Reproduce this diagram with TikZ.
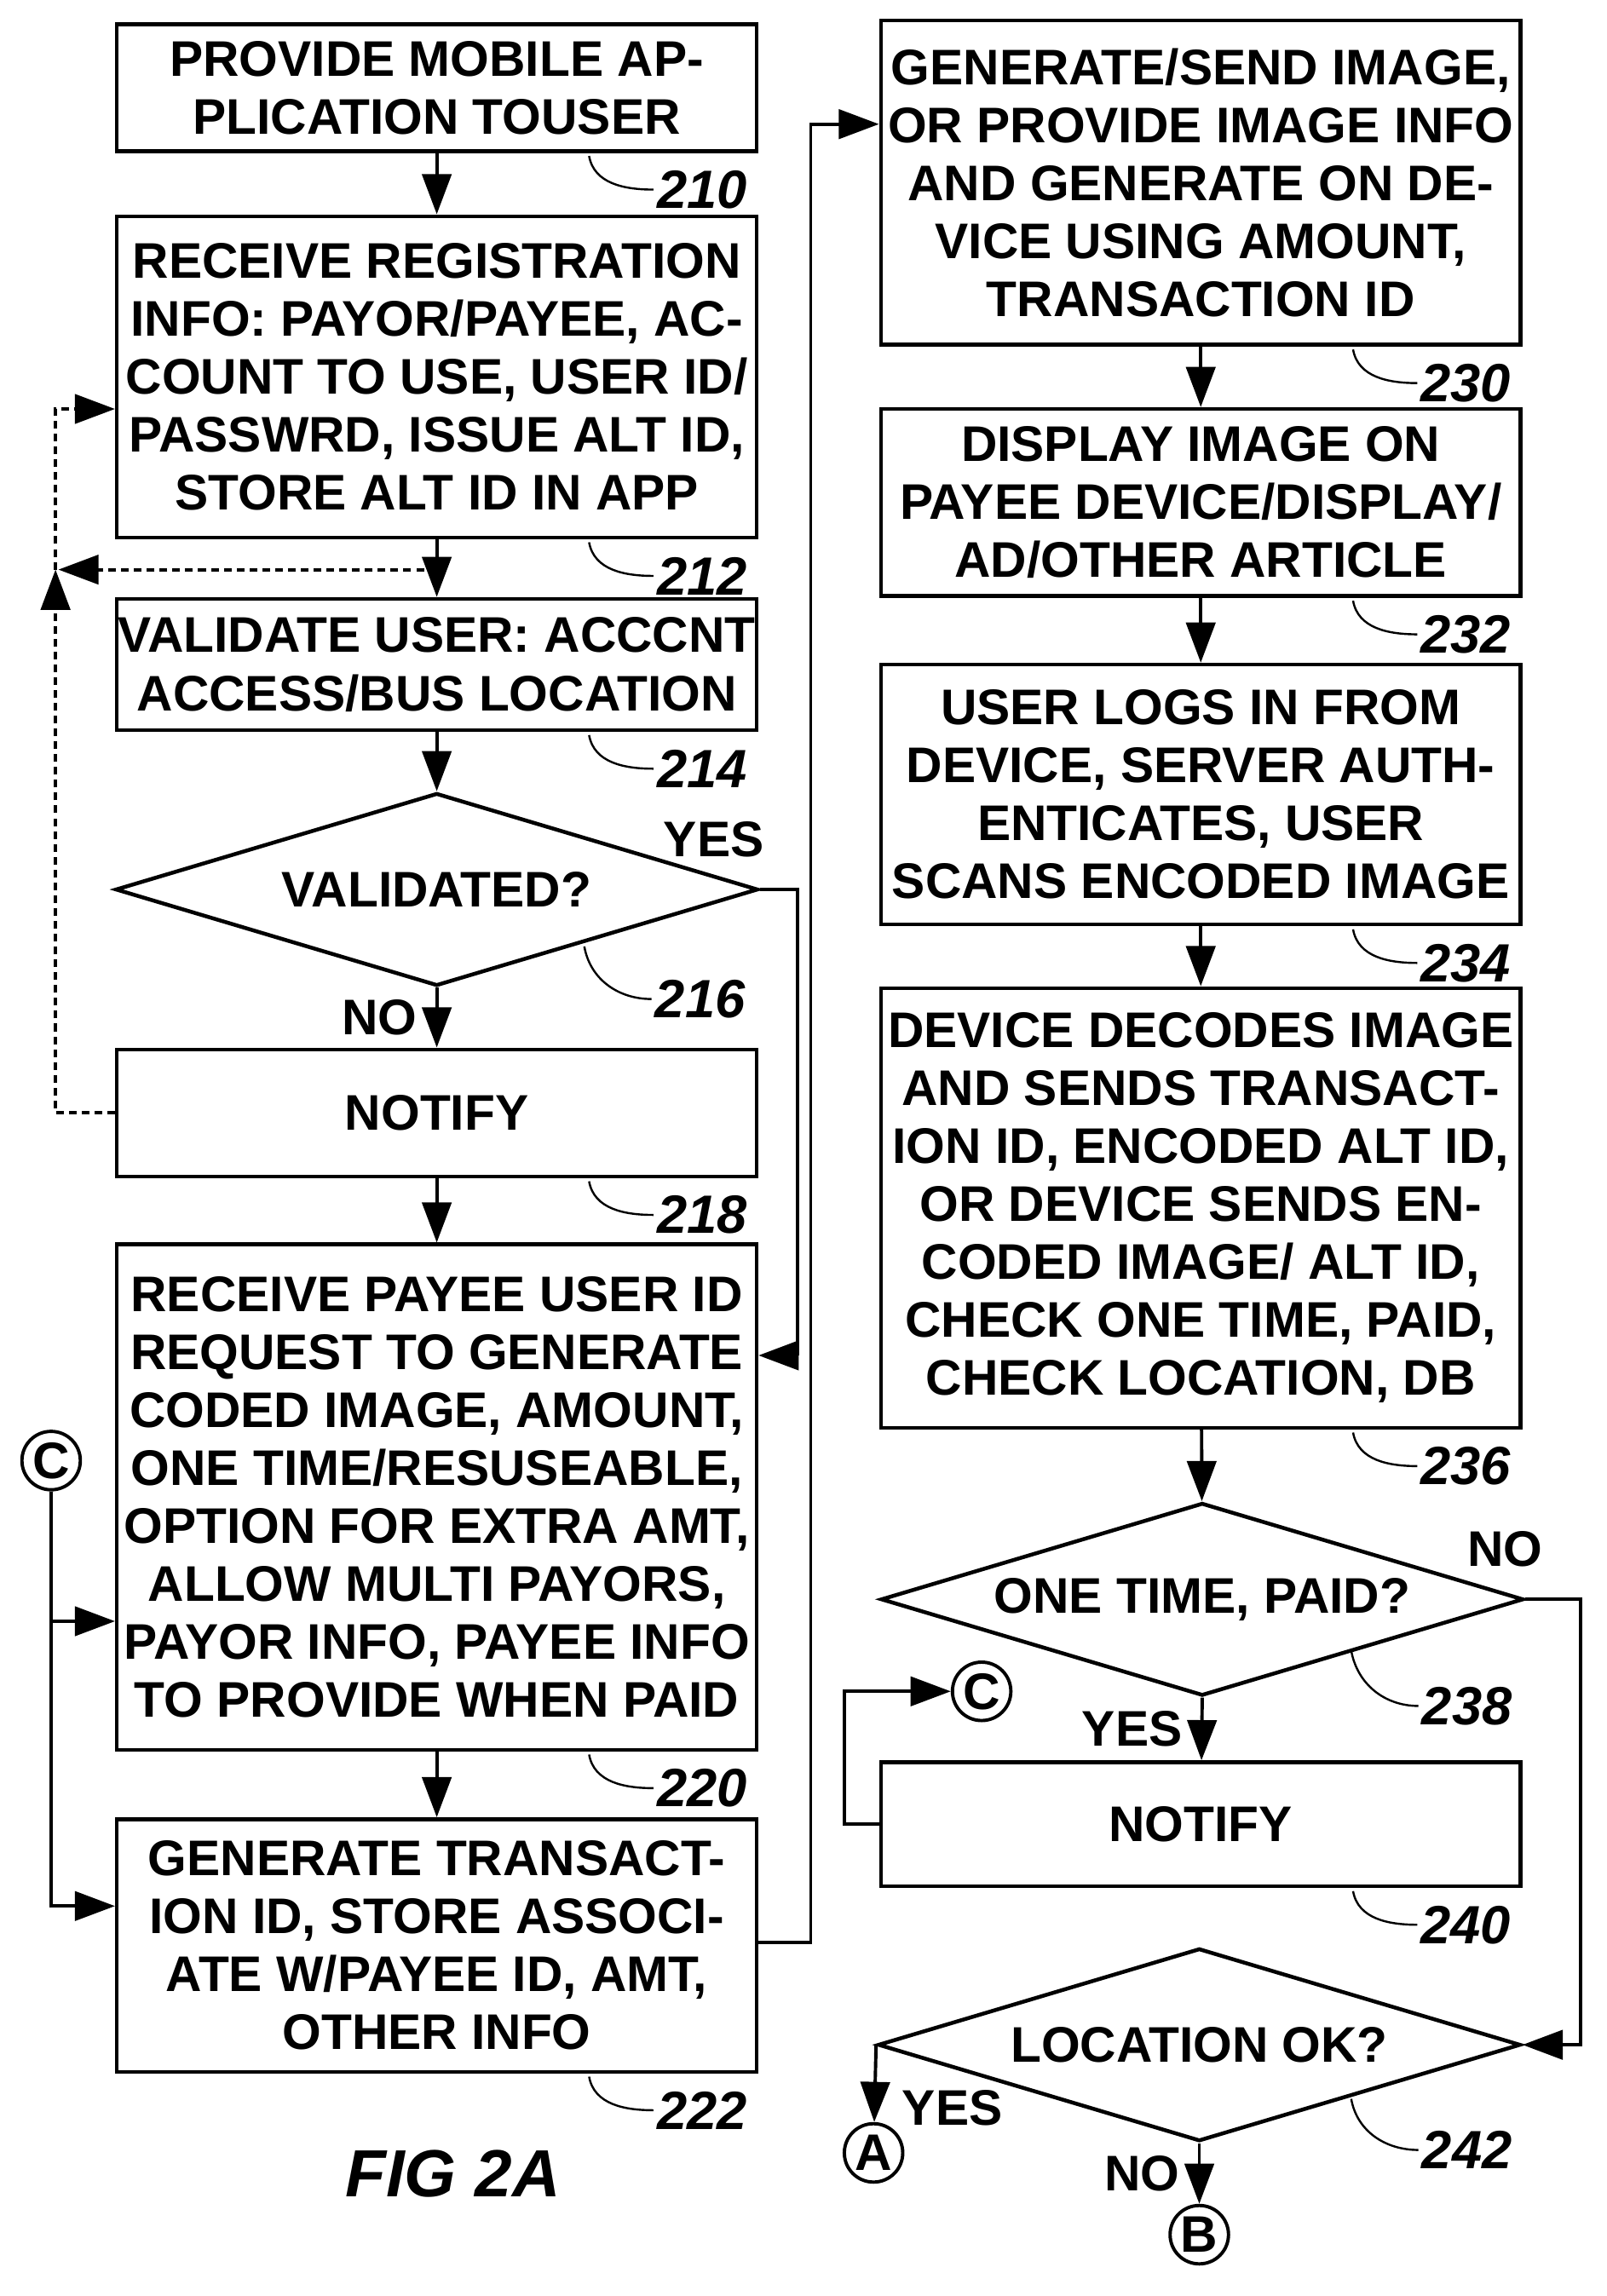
\documentclass[tikz,border=0pt]{standalone}
\usepackage{fontspec}
\setmainfont{Liberation Sans}
\usetikzlibrary{shapes.geometric, arrows.meta}
\usetikzlibrary{positioning}
\usetikzlibrary{calc}

\tikzset{
  stepbox/.style={draw, line width=1.5pt, align=center, inner sep=0pt,
               minimum width=8.76cm, font=\fontsize{19.5}{22.6}\selectfont\bfseries},
  decision/.style={draw, diamond, line width=1.5pt, aspect=3.3, inner sep=0pt,
               minimum width=8.8cm, minimum height=2.64cm, font=\fontsize{19.5}{22.6}\selectfont\bfseries},
  conn/.style={draw, circle, line width=1.3pt, inner sep=0pt, minimum size=0.8cm,
               font=\fontsize{20}{20}\selectfont\bfseries},
  flow/.style={line width=1.3pt, -{Triangle[length=0.55cm,width=0.4cm]}},
  loop/.style={flow, densely dashed},
  lead/.style={line width=0.8pt},
  refnum/.style={font=\fontsize{21}{22}\selectfont\bfseries\itshape, anchor=west, inner sep=1pt},
  tag/.style={font=\fontsize{19.5}{20}\selectfont\bfseries, inner sep=1pt}
}
\newcommand{\refmark}[2]{\draw[lead] ($(#1)+(-116,2)$) to[out=-80,in=180] ($(#1)+(-72,25)$) node[refnum] {#2};}

\begin{document}
\begin{tikzpicture}[x=0.02cm, y=-0.02cm]
\useasboundingbox (0,0) rectangle (1100,1572);
% left column
\node[stepbox, minimum height=1.74cm] (provide) at (299,60) {PROVIDE MOBILE AP-\\PLICATION TOUSER};
\node[stepbox, minimum height=4.4cm] (register) at (299,258) {RECEIVE REGISTRATION\\INFO: PAYOR/PAYEE, AC-\\COUNT TO USE, USER ID/\\PASSWRD, ISSUE ALT ID,\\STORE ALT ID IN APP};
\node[stepbox, minimum height=1.8cm] (validate) at (299,455) {VALIDATE USER: ACCCNT\\ACCESS/BUS LOCATION};
\node[decision] (valq) at (299,609) {VALIDATED?};
\node[stepbox, minimum height=1.74cm] (notifyL) at (299,762) {NOTIFY};
\node[stepbox, minimum height=6.92cm] (request) at (299,1025) {RECEIVE PAYEE USER ID\\REQUEST TO GENERATE\\CODED IMAGE, AMOUNT,\\ONE TIME/RESUSEABLE,\\OPTION FOR EXTRA AMT,\\ALLOW MULTI PAYORS,\\PAYOR INFO, PAYEE INFO\\TO PROVIDE WHEN PAID};
\node[stepbox, minimum height=3.46cm] (transid) at (299,1332) {GENERATE TRANSACT-\\ION ID, STORE ASSOCI-\\ATE W/PAYEE ID, AMT,\\OTHER INFO};
\node[conn] (cL) at (35,1000) {C};
\node[font=\fontsize{26}{28}\selectfont\bfseries\itshape] (fig) at (310,1488) {FIG 2A};
% right column
\node[stepbox, minimum height=4.44cm] (image) at (822,125) {GENERATE/SEND IMAGE,\\OR PROVIDE IMAGE INFO\\AND GENERATE ON DE-\\VICE USING AMOUNT,\\TRANSACTION ID};
\node[stepbox, minimum height=2.56cm] (display) at (822,344) {DISPLAY IMAGE ON\\PAYEE DEVICE/DISPLAY/\\AD/OTHER ARTICLE};
\node[stepbox, minimum height=3.56cm] (login) at (822,544) {USER LOGS IN FROM\\DEVICE, SERVER AUTH-\\ENTICATES, USER\\SCANS ENCODED IMAGE};
\node[stepbox, minimum height=6.02cm] (decode) at (822,827) {DEVICE DECODES IMAGE\\AND SENDS TRANSACT-\\ION ID, ENCODED ALT ID,\\OR DEVICE SENDS EN-\\CODED IMAGE/ ALT ID,\\CHECK ONE TIME, PAID,\\CHECK LOCATION, DB};
\node[decision] (paidq) at (823,1095) {ONE TIME, PAID?};
\node[stepbox, minimum height=1.7cm] (notifyR) at (822,1249) {NOTIFY};
\node[decision] (locq) at (821,1400) {LOCATION OK?};
\node[conn] (cR) at (672,1158) {C};
\node[conn] (a) at (598,1474) {A};
\node[conn] (b) at (821,1530) {B};
% main flow
\draw[flow] (provide) -- (register);
\draw[flow] (register) -- (validate);
\draw[flow] (validate) -- (valq);
\draw[flow] (valq.south) -- node[tag, left=6pt] {NO} (notifyL);
\draw[flow] (notifyL) -- (request);
\draw[flow] (request) -- (transid);
\draw[flow] (valq.east) node[tag, above=11pt, xshift=-18pt] {YES} -| (546,928) -- (request.east |- 0,928);
\draw[flow] (transid.east |- 0,1330) -| (555,85) -- (image.west |- 0,85);
\draw[flow] (image) -- (display);
\draw[flow] (display) -- (login);
\draw[flow] (login) -- (decode);
\draw[flow] (decode) -- (paidq);
\draw[flow] (paidq.south) -- node[tag, left=6pt] {YES} (notifyR);
\draw[flow] (paidq.east) node[tag, above=11pt, xshift=-8pt] {NO} -| (1082,1400) -- (locq.east);
\draw[flow] (notifyR.west) -| (578,1158) -- (cR);
\draw[flow] (locq.west) -- (a);
\node[tag, right=10pt] at (598,1443) {YES};
\draw[flow] (locq.south) -- node[tag, left=6pt] {NO} (b);
\draw[flow] (cL) |- (request.west |- 0,1110);
\draw[flow] (35,1110) |- (transid.west |- 0,1305);
% dotted loop
\draw[loop] (notifyL.west) -| (38,390);
\draw[loop] (299,390) -- (40,390);
\draw[loop] (38,390) |- (register.west |- 0,280);
% reference numerals
\refmark{provide.south east}{210}
\refmark{register.south east}{212}
\refmark{validate.south east}{214}
\draw[lead] (400,648) to[out=-80,in=180] (446,684) node[refnum] {216};
\refmark{notifyL.south east}{218}
\refmark{request.south east}{220}
\refmark{transid.south east}{222}
\refmark{image.south east}{230}
\refmark{display.south east}{232}
\refmark{login.south east}{234}
\refmark{decode.south east}{236}
\draw[lead] (925,1130) to[out=-80,in=180] (971,1168) node[refnum] {238};
\refmark{notifyR.south east}{240}
\draw[lead] (925,1437) to[out=-80,in=180] (971,1472) node[refnum] {242};
\end{tikzpicture}
\end{document}
